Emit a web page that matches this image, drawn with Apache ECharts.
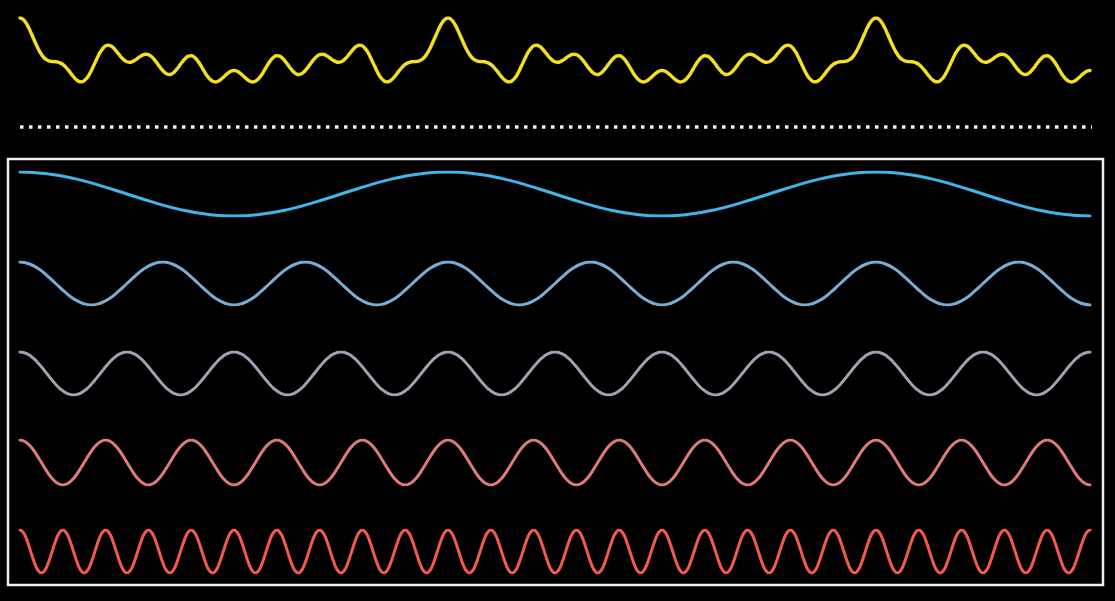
<!DOCTYPE html>
<html>
<head>
<meta charset="utf-8">
<script src="https://cdn.jsdelivr.net/npm/echarts@6/dist/echarts.min.js"></script>
<style>
html,body{margin:0;padding:0;background:#000;}
#chart{width:1115px;height:601px;}
</style>
</head>
<body>
<div id="chart"></div>
<script>
// x span of every curve, in degrees of the slowest component (2.5 cycles)
const spanDeg = 900;

// sum curve (yellow), sampled every 2.25 degrees
const sumWave = [
5,4.88,4.55,4.04,3.39,2.69,2.00,1.37,0.85,0.46,0.22,0.08,0.03,0.01,-0.03,-0.13,-0.31,-0.58,-0.93,-1.32,
-1.71,-2.03,-2.24,-2.30,-2.17,-1.86,-1.39,-0.79,-0.14,0.51,1.09,1.53,1.81,1.90,1.80,1.56,1.22,0.84,0.47,0.18,
0.00,-0.05,0.02,0.18,0.40,0.62,0.79,0.86,0.81,0.63,0.32,-0.06,-0.48,-0.88,-1.20,-1.40,-1.45,-1.33,-1.07,-0.71,
-0.29,0.11,0.44,0.65,0.69,0.56,0.27,-0.15,-0.65,-1.16,-1.63,-2.00,-2.23,-2.31,-2.23,-2.04,-1.78,-1.49,-1.24,-1.06,
-1.00,
-1.06,-1.24,-1.49,-1.78,-2.04,-2.23,-2.31,-2.23,-2.00,-1.63,-1.16,-0.65,-0.15,0.27,0.56,0.69,0.65,0.44,0.11,-0.29,
-0.71,-1.07,-1.33,-1.45,-1.40,-1.20,-0.88,-0.48,-0.06,0.32,0.63,0.81,0.86,0.79,0.62,0.40,0.18,0.02,-0.05,0.00,
0.18,0.47,0.84,1.22,1.56,1.80,1.90,1.81,1.53,1.09,0.51,-0.14,-0.79,-1.39,-1.86,-2.17,-2.30,-2.24,-2.03,-1.71,
-1.32,-0.93,-0.58,-0.31,-0.13,-0.03,0.01,0.03,0.08,0.22,0.46,0.85,1.37,2.00,2.69,3.39,4.04,4.55,4.88,5,
4.88,4.55,4.04,3.39,2.69,2.00,1.37,0.85,0.46,0.22,0.08,0.03,0.01,-0.03,-0.13,-0.31,-0.58,-0.93,-1.32,
-1.71,-2.03,-2.24,-2.30,-2.17,-1.86,-1.39,-0.79,-0.14,0.51,1.09,1.53,1.81,1.90,1.80,1.56,1.22,0.84,0.47,0.18,
0.00,-0.05,0.02,0.18,0.40,0.62,0.79,0.86,0.81,0.63,0.32,-0.06,-0.48,-0.88,-1.20,-1.40,-1.45,-1.33,-1.07,-0.71,
-0.29,0.11,0.44,0.65,0.69,0.56,0.27,-0.15,-0.65,-1.16,-1.63,-2.00,-2.23,-2.31,-2.23,-2.04,-1.78,-1.49,-1.24,-1.06,
-1.00,
-1.06,-1.24,-1.49,-1.78,-2.04,-2.23,-2.31,-2.23,-2.00,-1.63,-1.16,-0.65,-0.15,0.27,0.56,0.69,0.65,0.44,0.11,-0.29,
-0.71,-1.07,-1.33,-1.45,-1.40,-1.20,-0.88,-0.48,-0.06,0.32,0.63,0.81,0.86,0.79,0.62,0.40,0.18,0.02,-0.05,0.00,
0.18,0.47,0.84,1.22,1.56,1.80,1.90,1.81,1.53,1.09,0.51,-0.14,-0.79,-1.39,-1.86,-2.17,-2.30,-2.24,-2.03,-1.71,
-1.32,-0.93,-0.58,-0.31,-0.13,-0.03,0.01,0.03,0.08,0.22,0.46,0.85,1.37,2.00,2.69,3.39,4.04,4.55,4.88,5,
4.88,4.55,4.04,3.39,2.69,2.00,1.37,0.85,0.46,0.22,0.08,0.03,0.01,-0.03,-0.13,-0.31,-0.58,-0.93,-1.32,
-1.71,-2.03,-2.24,-2.30,-2.17,-1.86,-1.39,-0.79,-0.14,0.51,1.09,1.53,1.81,1.90,1.80,1.56,1.22,0.84,0.47,0.18,
0.00,-0.05,0.02,0.18,0.40,0.62,0.79,0.86,0.81,0.63,0.32,-0.06,-0.48,-0.88,-1.20,-1.40,-1.45,-1.33,-1.07,-0.71,
-0.29,0.11,0.44,0.65,0.69,0.56,0.27,-0.15,-0.65,-1.16,-1.63,-2.00,-2.23,-2.31,-2.23,-2.04,-1.78,-1.49,-1.24,-1.06,
-1.00
];

// component waves, sampled every sixteenth of their own period
const wave1 = [
1,.92,.71,.38,0,-.38,-.71,-.92,-1,-.92,-.71,-.38,0,.38,.71,.92,
1,.92,.71,.38,0,-.38,-.71,-.92,-1,-.92,-.71,-.38,0,.38,.71,.92,
1,.92,.71,.38,0,-.38,-.71,-.92,-1];
const wave2 = [
1,.92,.71,.38,0,-.38,-.71,-.92,-1,-.92,-.71,-.38,0,.38,.71,.92,
1,.92,.71,.38,0,-.38,-.71,-.92,-1,-.92,-.71,-.38,0,.38,.71,.92,
1,.92,.71,.38,0,-.38,-.71,-.92,-1,-.92,-.71,-.38,0,.38,.71,.92,
1,.92,.71,.38,0,-.38,-.71,-.92,-1,-.92,-.71,-.38,0,.38,.71,.92,
1,.92,.71,.38,0,-.38,-.71,-.92,-1,-.92,-.71,-.38,0,.38,.71,.92,
1,.92,.71,.38,0,-.38,-.71,-.92,-1,-.92,-.71,-.38,0,.38,.71,.92,
1,.92,.71,.38,0,-.38,-.71,-.92,-1,-.92,-.71,-.38,0,.38,.71,.92,
1,.92,.71,.38,0,-.38,-.71,-.92,-1];
const wave3 = [
1,.92,.71,.38,0,-.38,-.71,-.92,-1,-.92,-.71,-.38,0,.38,.71,.92,
1,.92,.71,.38,0,-.38,-.71,-.92,-1,-.92,-.71,-.38,0,.38,.71,.92,
1,.92,.71,.38,0,-.38,-.71,-.92,-1,-.92,-.71,-.38,0,.38,.71,.92,
1,.92,.71,.38,0,-.38,-.71,-.92,-1,-.92,-.71,-.38,0,.38,.71,.92,
1,.92,.71,.38,0,-.38,-.71,-.92,-1,-.92,-.71,-.38,0,.38,.71,.92,
1,.92,.71,.38,0,-.38,-.71,-.92,-1,-.92,-.71,-.38,0,.38,.71,.92,
1,.92,.71,.38,0,-.38,-.71,-.92,-1,-.92,-.71,-.38,0,.38,.71,.92,
1,.92,.71,.38,0,-.38,-.71,-.92,-1,-.92,-.71,-.38,0,.38,.71,.92,
1,.92,.71,.38,0,-.38,-.71,-.92,-1,-.92,-.71,-.38,0,.38,.71,.92,
1,.92,.71,.38,0,-.38,-.71,-.92,-1,-.92,-.71,-.38,0,.38,.71,.92,
1];
const wave4 = [
1,.92,.71,.38,0,-.38,-.71,-.92,-1,-.92,-.71,-.38,0,.38,.71,.92,
1,.92,.71,.38,0,-.38,-.71,-.92,-1,-.92,-.71,-.38,0,.38,.71,.92,
1,.92,.71,.38,0,-.38,-.71,-.92,-1,-.92,-.71,-.38,0,.38,.71,.92,
1,.92,.71,.38,0,-.38,-.71,-.92,-1,-.92,-.71,-.38,0,.38,.71,.92,
1,.92,.71,.38,0,-.38,-.71,-.92,-1,-.92,-.71,-.38,0,.38,.71,.92,
1,.92,.71,.38,0,-.38,-.71,-.92,-1,-.92,-.71,-.38,0,.38,.71,.92,
1,.92,.71,.38,0,-.38,-.71,-.92,-1,-.92,-.71,-.38,0,.38,.71,.92,
1,.92,.71,.38,0,-.38,-.71,-.92,-1,-.92,-.71,-.38,0,.38,.71,.92,
1,.92,.71,.38,0,-.38,-.71,-.92,-1,-.92,-.71,-.38,0,.38,.71,.92,
1,.92,.71,.38,0,-.38,-.71,-.92,-1,-.92,-.71,-.38,0,.38,.71,.92,
1,.92,.71,.38,0,-.38,-.71,-.92,-1,-.92,-.71,-.38,0,.38,.71,.92,
1,.92,.71,.38,0,-.38,-.71,-.92,-1,-.92,-.71,-.38,0,.38,.71,.92,
1,.92,.71,.38,0,-.38,-.71,-.92,-1];
const wave5 = [
1,.92,.71,.38,0,-.38,-.71,-.92,-1,-.92,-.71,-.38,0,.38,.71,.92,
1,.92,.71,.38,0,-.38,-.71,-.92,-1,-.92,-.71,-.38,0,.38,.71,.92,
1,.92,.71,.38,0,-.38,-.71,-.92,-1,-.92,-.71,-.38,0,.38,.71,.92,
1,.92,.71,.38,0,-.38,-.71,-.92,-1,-.92,-.71,-.38,0,.38,.71,.92,
1,.92,.71,.38,0,-.38,-.71,-.92,-1,-.92,-.71,-.38,0,.38,.71,.92,
1,.92,.71,.38,0,-.38,-.71,-.92,-1,-.92,-.71,-.38,0,.38,.71,.92,
1,.92,.71,.38,0,-.38,-.71,-.92,-1,-.92,-.71,-.38,0,.38,.71,.92,
1,.92,.71,.38,0,-.38,-.71,-.92,-1,-.92,-.71,-.38,0,.38,.71,.92,
1,.92,.71,.38,0,-.38,-.71,-.92,-1,-.92,-.71,-.38,0,.38,.71,.92,
1,.92,.71,.38,0,-.38,-.71,-.92,-1,-.92,-.71,-.38,0,.38,.71,.92,
1,.92,.71,.38,0,-.38,-.71,-.92,-1,-.92,-.71,-.38,0,.38,.71,.92,
1,.92,.71,.38,0,-.38,-.71,-.92,-1,-.92,-.71,-.38,0,.38,.71,.92,
1,.92,.71,.38,0,-.38,-.71,-.92,-1,-.92,-.71,-.38,0,.38,.71,.92,
1,.92,.71,.38,0,-.38,-.71,-.92,-1,-.92,-.71,-.38,0,.38,.71,.92,
1,.92,.71,.38,0,-.38,-.71,-.92,-1,-.92,-.71,-.38,0,.38,.71,.92,
1,.92,.71,.38,0,-.38,-.71,-.92,-1,-.92,-.71,-.38,0,.38,.71,.92,
1,.92,.71,.38,0,-.38,-.71,-.92,-1,-.92,-.71,-.38,0,.38,.71,.92,
1,.92,.71,.38,0,-.38,-.71,-.92,-1,-.92,-.71,-.38,0,.38,.71,.92,
1,.92,.71,.38,0,-.38,-.71,-.92,-1,-.92,-.71,-.38,0,.38,.71,.92,
1,.92,.71,.38,0,-.38,-.71,-.92,-1,-.92,-.71,-.38,0,.38,.71,.92,
1,.92,.71,.38,0,-.38,-.71,-.92,-1,-.92,-.71,-.38,0,.38,.71,.92,
1,.92,.71,.38,0,-.38,-.71,-.92,-1,-.92,-.71,-.38,0,.38,.71,.92,
1,.92,.71,.38,0,-.38,-.71,-.92,-1,-.92,-.71,-.38,0,.38,.71,.92,
1,.92,.71,.38,0,-.38,-.71,-.92,-1,-.92,-.71,-.38,0,.38,.71,.92,
1,.92,.71,.38,0,-.38,-.71,-.92,-1,-.92,-.71,-.38,0,.38,.71,.92,
1];

const curves = [
  {data: sumWave, color: '#f4e01c', min: -3, max: 5, top: 18, height: 70, width: 3.4},
  {data: wave1, color: '#3fb6e8', min: -1, max: 1, top: 172, height: 44, width: 3},
  {data: wave2, color: '#78aed6', min: -1, max: 1, top: 262, height: 43, width: 3},
  {data: wave3, color: '#a69eb1', min: -1, max: 1, top: 352, height: 43, width: 3},
  {data: wave4, color: '#dc7c79', min: -1, max: 1, top: 440, height: 45, width: 3},
  {data: wave5, color: '#f25a4c', min: -1, max: 1, top: 530, height: 43, width: 3}
];

const chart = echarts.init(document.getElementById('chart'), null, {renderer: 'canvas'});
const option = {
  backgroundColor: '#000',
  animation: false,
  grid: curves.map(c => ({left: 20, right: 25, top: c.top, height: c.height})),
  xAxis: curves.map((c, i) => ({type: 'value', gridIndex: i, min: 0, max: spanDeg, show: false})),
  yAxis: curves.map((c, i) => ({type: 'value', gridIndex: i, min: c.min, max: c.max, show: false})),
  series: curves.map((c, i) => ({
    type: 'line',
    xAxisIndex: i,
    yAxisIndex: i,
    smooth: 0.5,
    showSymbol: false,
    silent: true,
    lineStyle: {color: c.color, width: c.width, cap: 'round', join: 'round'},
    data: c.data.map((v, j) => [j * spanDeg / (c.data.length - 1), v])
  })),
  graphic: [
    {type: 'line', silent: true,
     shape: {x1: 20, y1: 127, x2: 1092, y2: 127},
     style: {stroke: '#f2f2f2', lineWidth: 3.5, lineDash: [3.5, 5.5]}},
    {type: 'rect', silent: true,
     shape: {x: 8, y: 159, width: 1095, height: 426},
     style: {fill: 'none', stroke: '#eeeeee', lineWidth: 2.5}}
  ]
};
chart.setOption(option);
</script>
</body>
</html>
